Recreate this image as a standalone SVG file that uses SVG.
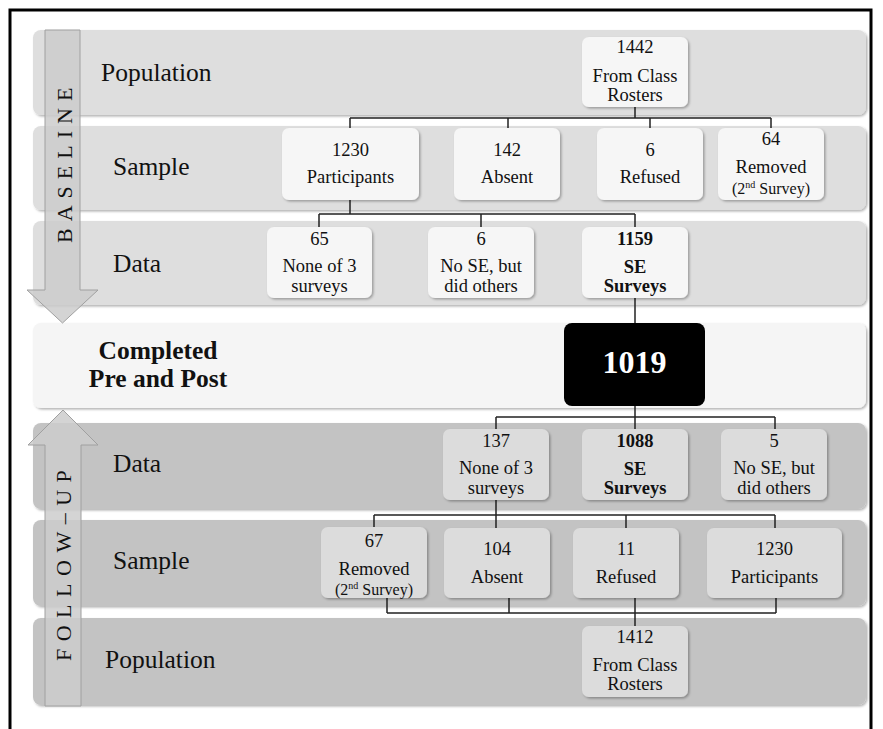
<svg xmlns="http://www.w3.org/2000/svg" width="883" height="729" viewBox="0 0 883 729">
<defs>
<filter id="sh" x="-10%" y="-10%" width="130%" height="130%">
<feDropShadow dx="1.5" dy="1.5" stdDeviation="1.2" flood-color="#000" flood-opacity="0.3"/>
</filter>
<style>
.bandA{fill:#dedede;}
.bandB{fill:#c3c3c3;}
.bandC{fill:#f5f5f5;}
.nodeA rect{fill:#f6f6f6;filter:url(#sh);}
.nodeB rect{fill:#dcdcdc;filter:url(#sh);}
text{font-family:"Liberation Serif","Times New Roman",serif;fill:#111;}
.nt{font-size:18.5px;text-anchor:middle;}
.sm{font-size:16px;text-anchor:middle;}
.b{font-weight:bold;}
.lab{font-size:25.5px;}
.arr{fill:#cccccc;fill-opacity:0.85;stroke:#a0a0a0;stroke-width:1;}
.vt{font-size:22px;}
.conn path{fill:none;stroke:#222;stroke-width:1.5;}
</style>
</defs>
<rect x="0" y="0" width="883" height="729" fill="#fff"/>
<rect x="10" y="10" width="861" height="740" fill="none" stroke="#000" stroke-width="3"/>

<g id="bands" filter="url(#sh)">
<rect class="bandA" x="33" y="30" width="833" height="85" rx="8"/>
<rect class="bandA" x="33" y="126" width="833" height="84" rx="8"/>
<rect class="bandA" x="33" y="221" width="833" height="84" rx="8"/>
<rect class="bandC" x="33" y="323" width="833" height="85" rx="8"/>
<rect class="bandB" x="33" y="423" width="833" height="86" rx="8"/>
<rect class="bandB" x="33" y="520" width="833" height="86" rx="8"/>
<rect class="bandB" x="33" y="618" width="833" height="87" rx="8"/>
</g>

<g id="arrows">
<path class="arr" d="M45 30 H80 V290 H98 L62.5 323 L27 290 H45 Z"/>
<text class="vt" transform="translate(72,243) rotate(-90)" letter-spacing="7">BASELINE</text>
<path class="arr" d="M63 410 L98 445 H81 V706 H45 V445 H28 Z"/>
<text class="vt" transform="translate(71,661) rotate(-90)" letter-spacing="7.5">FOLLOW–UP</text>
</g>

<g id="labels">
<text class="lab" x="101" y="81">Population</text>
<text class="lab" x="113" y="175">Sample</text>
<text class="lab" x="113" y="272">Data</text>
<text class="lab b" x="158" y="359" text-anchor="middle">Completed</text>
<text class="lab b" x="158" y="387" text-anchor="middle">Pre and Post</text>
<text class="lab" x="113" y="472">Data</text>
<text class="lab" x="113" y="569">Sample</text>
<text class="lab" x="105" y="668">Population</text>
</g>

<g class="conn" id="connectors">
<path d="M635 107 V118 M350 118 H771 M350 118 V128 M508 118 V128 M650 118 V128 M771 118 V128"/>
<path d="M350 200 V214 M319 214 H635 M319 214 V227 M481 214 V227 M635 214 V227"/>
<path d="M635 298 V323"/>
<path d="M635 406 V417 M496 417 H775 M496 417 V429 M635 417 V429 M775 417 V429"/>
<path d="M496 500 V528 M374 515 H775 M374 515 V527 M626 515 V528 M775 515 V528"/>
<path d="M387 598 V613 M509 598 V613 M776 598 V613 M387 613 H776 M635 598 V626"/>
</g>

<g id="n1442" class="nodeA">
<rect x="582" y="37" width="106" height="70" rx="7"/>
<text class="nt" x="635" y="53">1442</text>
<text class="nt" x="635" y="82">From Class</text>
<text class="nt" x="635" y="101">Rosters</text>
</g>
<g id="n1230a" class="nodeA">
<rect x="282" y="128" width="137" height="72" rx="7"/>
<text class="nt" x="350.5" y="156">1230</text>
<text class="nt" x="350.5" y="183">Participants</text>
</g>
<g id="n142" class="nodeA">
<rect x="454" y="128" width="106" height="72" rx="7"/>
<text class="nt" x="507" y="156">142</text>
<text class="nt" x="507" y="183">Absent</text>
</g>
<g id="n6r" class="nodeA">
<rect x="597" y="128" width="106" height="72" rx="7"/>
<text class="nt" x="650" y="156">6</text>
<text class="nt" x="650" y="183">Refused</text>
</g>
<g id="n64" class="nodeA">
<rect x="718" y="128" width="106" height="72" rx="7"/>
<text class="nt" x="771" y="145">64</text>
<text class="nt" x="771" y="173">Removed</text>
<text class="sm" x="771" y="194">(2<tspan font-size="10" dy="-6">nd</tspan><tspan dy="6"> Survey)</tspan></text>
</g>
<g id="n65" class="nodeA">
<rect x="267" y="227" width="105" height="71" rx="7"/>
<text class="nt" x="319.5" y="245">65</text>
<text class="nt" x="319.5" y="272">None of 3</text>
<text class="nt" x="319.5" y="292">surveys</text>
</g>
<g id="n6d" class="nodeA">
<rect x="428" y="227" width="106" height="71" rx="7"/>
<text class="nt" x="481" y="245">6</text>
<text class="nt" x="481" y="272">No SE, but</text>
<text class="nt" x="481" y="292">did others</text>
</g>
<g id="n1159" class="nodeA">
<rect x="582" y="227" width="106" height="71" rx="7"/>
<text class="nt b" x="635" y="245">1159</text>
<text class="nt b" x="635" y="273">SE</text>
<text class="nt b" x="635" y="292">Surveys</text>
</g>
<g id="n1019">
<rect x="564" y="323" width="141" height="83" rx="8" fill="#000"/>
<text x="634.5" y="373" font-size="32" font-weight="bold" text-anchor="middle" style="fill:#fff">1019</text>
</g>
<g id="n137" class="nodeB">
<rect x="443" y="429" width="106" height="71" rx="7"/>
<text class="nt" x="496" y="447">137</text>
<text class="nt" x="496" y="474">None of 3</text>
<text class="nt" x="496" y="494">surveys</text>
</g>
<g id="n1088" class="nodeB">
<rect x="582" y="429" width="106" height="71" rx="7"/>
<text class="nt b" x="635" y="447">1088</text>
<text class="nt b" x="635" y="475">SE</text>
<text class="nt b" x="635" y="494">Surveys</text>
</g>
<g id="n5" class="nodeB">
<rect x="721" y="429" width="106" height="71" rx="7"/>
<text class="nt" x="774" y="447">5</text>
<text class="nt" x="774" y="474">No SE, but</text>
<text class="nt" x="774" y="494">did others</text>
</g>
<g id="n67" class="nodeB">
<rect x="321" y="527" width="106" height="71" rx="7"/>
<text class="nt" x="374" y="547">67</text>
<text class="nt" x="374" y="575">Removed</text>
<text class="sm" x="374" y="595">(2<tspan font-size="10" dy="-6">nd</tspan><tspan dy="6"> Survey)</tspan></text>
</g>
<g id="n104" class="nodeB">
<rect x="444" y="528" width="106" height="70" rx="7"/>
<text class="nt" x="497" y="555">104</text>
<text class="nt" x="497" y="583">Absent</text>
</g>
<g id="n11" class="nodeB">
<rect x="573" y="528" width="106" height="70" rx="7"/>
<text class="nt" x="626" y="555">11</text>
<text class="nt" x="626" y="583">Refused</text>
</g>
<g id="n1230b" class="nodeB">
<rect x="707" y="528" width="135" height="70" rx="7"/>
<text class="nt" x="774.5" y="555">1230</text>
<text class="nt" x="774.5" y="583">Participants</text>
</g>
<g id="n1412" class="nodeB">
<rect x="582" y="626" width="106" height="71" rx="7"/>
<text class="nt" x="635" y="643">1412</text>
<text class="nt" x="635" y="671">From Class</text>
<text class="nt" x="635" y="690">Rosters</text>
</g>
</svg>
